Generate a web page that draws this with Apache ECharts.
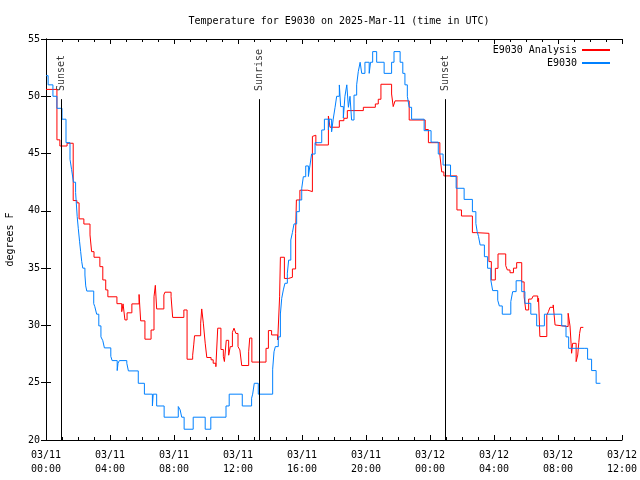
<!DOCTYPE html>
<html>
<head>
<meta charset="utf-8">
<script src="https://cdn.jsdelivr.net/npm/echarts@6/dist/echarts.min.js"></script>
<style>html,body{margin:0;padding:0;background:#fff}#c{width:640px;height:480px}</style>
</head>
<body>
<div id="c"></div>
<script>
// minutes since 2025-03-11 00:00 UTC
const analysisTimes = [0,41,52,79,102,116,124,142,165,171,180,202,213,224,232,266,284,289,296,304,322,349,355,371,394,405,410,415,442,446,469,475,517,529,550,554,557,580,584,590,597,603,619,627,637,644,656,665,669,676,685,691,699,705,712,720,727,734,760,764,772,825,834,846,869,876,879,894,909,924,936,939,952,982,999,1002,1012,1059,1065,1100,1117,1130,1190,1235,1246,1256,1296,1302,1309,1362,1422,1434,1477,1484,1492,1541,1558,1599,1612,1661,1670,1685,1695,1724,1730,1740,1753,1765,1784,1793,1799,1810,1821,1827,1844,1847,1852,1878,1884,1890,1902,1909,1915,1958,1965,1969,1971,1975,1988,1994,1998,2001,2005,2015];
const analysisValues = [50.6,46.2,45.66,45.9,40.9,40.7,39.3,38.85,37.9,36.44,35.95,35.13,33.97,33.1,32.5,31.9,31.2,31.88,30.48,31.1,31.88,32.7,30.4,28.8,29.6,32.5,33.5,31.44,32.66,32.9,32.5,30.7,31.35,27.05,27.4,28.3,29.1,30.2,31.44,30.2,28.45,27.2,27.0,26.7,26.4,29.76,27.9,27.3,26.85,28.7,27.4,28.15,29.4,29.76,29.3,28.15,27.86,26.5,27.7,28.9,26.8,28.0,29.55,29.17,28.73,32.5,35.95,34.1,34.2,34.93,38.0,40.95,41.8,41.68,46.5,46.6,45.75,48.28,47.3,47.87,48.08,48.75,49.04,49.33,49.74,51.05,50.2,49.1,49.6,47.93,47.1,45.95,44.88,43.4,43.05,40.08,39.55,38.1,38.04,35.57,33.97,34.98,36.24,35.22,34.84,34.6,35.0,35.48,33.8,32.5,31.35,32.3,32.46,32.57,32.07,32.37,29.03,30.9,31.2,31.58,31.79,30.04,29.9,31.06,29.96,28.44,27.57,28.44,26.84,27.42,28.5,29.3,29.83,29.83];

const obsTimes = [0,8,26,41,60,75,90,96,103,111,117,121,126,130,134,138,146,149,153,179,183,190,198,206,213,219,243,248,267,270,275,303,309,346,369,399,402,415,443,496,503,509,518,552,597,618,675,687,736,771,775,781,796,850,855,860,871,879,884,890,896,905,910,918,924,930,940,950,959,965,974,984,990,996,1009,1034,1044,1059,1062,1071,1077,1084,1090,1100,1105,1115,1121,1128,1134,1140,1146,1155,1165,1171,1178,1184,1196,1212,1217,1225,1240,1268,1296,1305,1328,1338,1346,1355,1362,1371,1418,1444,1471,1489,1517,1538,1568,1599,1612,1617,1622,1628,1644,1656,1668,1675,1694,1700,1711,1743,1750,1763,1784,1796,1818,1840,1869,1934,1950,1960,2018,2031,2046,2063,2079];
const obsValues = [51.8,51.0,50.0,48.95,48.0,45.95,44.5,43.6,42.5,41.6,39.5,38.48,37.3,36.44,35.57,35.0,34.4,33.45,33.0,31.9,31.64,30.98,29.96,29.0,28.67,28.04,27.3,26.93,26.06,26.7,26.93,26.7,26.03,24.95,24.0,22.97,24.0,22.97,21.99,22.92,22.63,21.99,20.94,21.99,20.94,21.99,22.97,24.0,22.97,23.65,24.0,24.95,24.0,26.18,27.7,28.15,29.0,31.0,32.37,33.1,33.68,34.56,35.7,37.46,38.1,38.86,39.93,40.95,41.97,42.98,43.92,43.0,44.0,44.96,45.95,47.06,48.0,47.06,48.0,46.9,48.0,49.04,50.0,50.99,49.1,48.1,50.0,51.0,49.04,50.0,47.93,50.1,51.0,52.15,52.97,52.0,52.97,52.0,52.97,53.9,52.97,52.0,52.97,53.9,52.97,52.0,51.0,50.0,49.04,48.0,47.0,46.0,44.96,44.0,43.0,41.97,41.0,39.93,38.9,38.18,37.75,37.02,36.0,34.99,33.97,33.04,32.2,31.7,30.98,32.08,32.95,33.9,32.95,31.93,30.98,29.96,30.98,29.96,29.0,28.0,28.0,27.05,26.06,24.95,24.95];

const sunTimes = [57, 801, 1497];
const sunLabels = ['Sunset', 'Sunrise', 'Sunset'];
const seriesNames = ['E9030 Analysis', 'E9030'];
const titleText = 'Temperature for E9030 on 2025-Mar-11 (time in UTC)';

const FONT = 'DejaVu Sans Mono';
const pad = n => (n < 10 ? '0' : '') + n;
function timeLabel(m) {
  const day = 11 + Math.floor(m / 1440);
  const h = Math.round((m % 1440) / 60);
  return '03/' + pad(day) + '\n' + pad(h) + ':00';
}

const redData = analysisTimes.map((t, i) => [t, analysisValues[i]]);
const blueData = obsTimes.map((t, i) => [t, obsValues[i]]);
const sunLineTop = 49.75;
const sunLabelY = 50.37;

const xCommon = {
  type: 'value', min: 0, max: 2160, interval: 240,
  axisLine: { show: true, lineStyle: { color: '#000', width: 1 } },
  axisTick: { show: true, inside: true, length: 5, lineStyle: { color: '#000' } },
  minorTick: { show: true, splitNumber: 4, length: 3, lineStyle: { color: '#000' } },
  splitLine: { show: false }, minorSplitLine: { show: false }
};
const yCommon = {
  type: 'value', min: 20, max: 55, interval: 5,
  axisLine: { show: true, lineStyle: { color: '#000', width: 1 } },
  axisTick: { show: true, inside: true, length: 5, lineStyle: { color: '#000' } },
  splitLine: { show: false }
};

const chart = echarts.init(document.getElementById('c'), null, { renderer: 'canvas' });
chart.setOption({
  animation: false,
  backgroundColor: '#fff',
  title: {
    text: titleText, left: 334, top: 11, textAlign: 'center',
    textStyle: { fontFamily: FONT, fontSize: 10, fontWeight: 'normal', color: '#000' }
  },
  grid: { left: 46, right: 18, top: 39, bottom: 40, containLabel: false, outerBoundsMode: 'none' },
  legend: [
    { data: [seriesNames[0]], right: 25, top: 40, orient: 'vertical', align: 'right',
      icon: 'rect', itemWidth: 28, itemHeight: 2, itemGap: 4,
      textStyle: { fontFamily: FONT, fontSize: 10, color: '#000' } },
    { data: [seriesNames[1]], right: 25, top: 53, orient: 'vertical', align: 'right',
      icon: 'rect', itemWidth: 28, itemHeight: 2, itemGap: 4,
      textStyle: { fontFamily: FONT, fontSize: 10, color: '#000' } }
  ],
  xAxis: [
    Object.assign({}, xCommon, { position: 'bottom',
      axisLabel: { show: true, formatter: timeLabel, margin: 8, lineHeight: 14,
        fontFamily: FONT, fontSize: 10, color: '#000' } }),
    Object.assign({}, xCommon, { position: 'top', axisLabel: { show: false } })
  ],
  yAxis: [
    Object.assign({}, yCommon, { position: 'left',
      name: 'degrees F', nameLocation: 'middle', nameGap: 31, nameRotate: 90,
      nameTextStyle: { fontFamily: FONT, fontSize: 10, color: '#000' },
      axisLabel: { show: true, margin: 6, fontFamily: FONT, fontSize: 10, color: '#000' } }),
    Object.assign({}, yCommon, { position: 'right', axisLabel: { show: false } })
  ],
  series: [
    {
      name: 'sun', type: 'scatter', symbolSize: 0, silent: true,
      data: sunTimes.map((t, i) => [t, sunLabelY, sunLabels[i]]),
      label: { show: true, position: 'inside', rotate: 90, align: 'left', verticalAlign: 'middle',
        formatter: p => p.value[2], fontFamily: FONT, fontSize: 10, color: '#000', offset: [1, 0] },
      markLine: {
        silent: true, symbol: ['none', 'none'], animation: false,
        label: { show: false },
        lineStyle: { color: '#000', width: 1, type: 'solid' },
        data: sunTimes.map(t => [{ coord: [t, 20] }, { coord: [t, sunLineTop] }])
      },
      z: 1
    },
    {
      name: seriesNames[0], type: 'line', step: 'end', showSymbol: false, symbol: 'none',
      data: redData, color: '#ff0000', lineStyle: { color: '#ff0000', width: 1 }, z: 3
    },
    {
      name: seriesNames[1], type: 'line', step: 'end', showSymbol: false, symbol: 'none',
      data: blueData, color: '#0080ff', lineStyle: { color: '#0080ff', width: 1 }, z: 4
    }
  ]
});
</script>
</body>
</html>
